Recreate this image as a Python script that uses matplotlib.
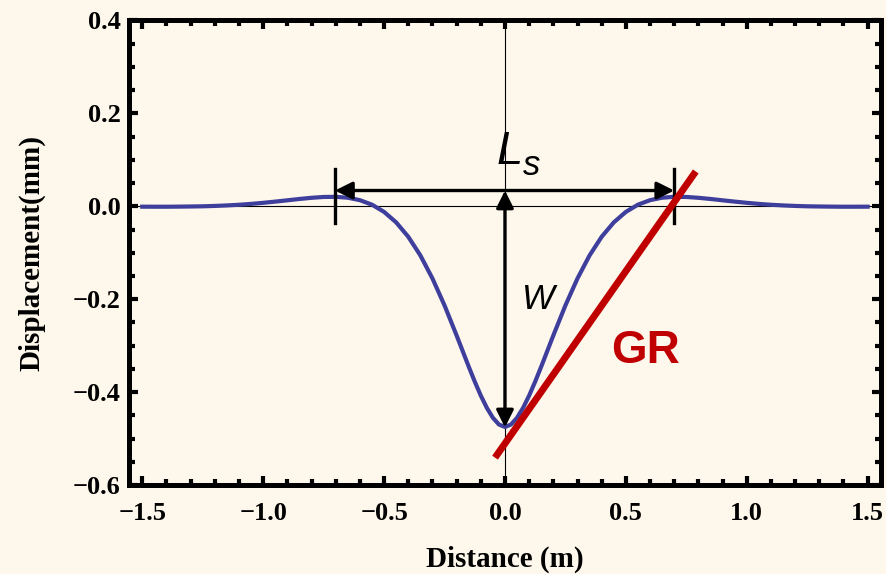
import matplotlib
matplotlib.use('Agg')
import matplotlib.pyplot as plt
from matplotlib.ticker import MultipleLocator, FuncFormatter

# displacement profile (x in m, y in mm)
distance = [-1.5, -1.45, -1.4, -1.35, -1.3, -1.25, -1.2, -1.15, -1.1, -1.05,
            -1.0, -0.95, -0.9, -0.85, -0.8, -0.75, -0.7, -0.65, -0.6, -0.55,
            -0.5, -0.45, -0.4, -0.35, -0.3, -0.25, -0.2, -0.15, -0.125, -0.1,
            -0.075, -0.05, -0.025, 0.0, 0.025, 0.05, 0.075, 0.1, 0.125, 0.15,
            0.2, 0.25, 0.3, 0.35, 0.4, 0.45, 0.5, 0.55, 0.6, 0.65,
            0.7, 0.75, 0.8, 0.85, 0.9, 0.95, 1.0, 1.05, 1.1, 1.15,
            1.2, 1.25, 1.3, 1.35, 1.4, 1.45, 1.5]
displacement = [-0.0008, -0.0009, -0.0009, -0.0007, -0.0004, 0.0, 0.0008, 0.0019, 0.0033, 0.0052,
                0.0075, 0.0101, 0.0129, 0.0158, 0.0183, 0.0201, 0.0204, 0.0185, 0.0132, 0.0035,
                -0.0120, -0.0346, -0.0655, -0.1056, -0.1552, -0.2133, -0.2780, -0.3450, -0.3773, -0.4074,
                -0.4338, -0.4552, -0.4697, -0.475, -0.4697, -0.4552, -0.4338, -0.4074, -0.3773, -0.3450,
                -0.2780, -0.2133, -0.1552, -0.1056, -0.0655, -0.0346, -0.0120, 0.0035, 0.0132, 0.0185,
                0.0204, 0.0201, 0.0183, 0.0158, 0.0129, 0.0101, 0.0075, 0.0052, 0.0033, 0.0019,
                0.0008, 0.0, -0.0004, -0.0007, -0.0009, -0.0009, -0.0008]

# annotation geometry (data units)
ls_ends = [-0.703, 0.700]      # span of L_s
ls_level = 0.034               # height of the L_s arrow
w_bottom = -0.476              # maximum settlement W
gr_x = [-0.041, 0.789]         # tangent line GR
gr_y = [-0.541, 0.075]

xticks = [-1.5, -1.0, -0.5, 0.0, 0.5, 1.0, 1.5]
yticks = [-0.6, -0.4, -0.2, 0.0, 0.2, 0.4]

bg = '#fdf7ec'
fig = plt.figure(figsize=(8.87, 5.74), dpi=100, facecolor=bg)
ax = fig.add_axes([0.1454, 0.155, 0.8478, 0.8093])
ax.set_facecolor(bg)

# thin axes through the origin
ax.axhline(0, color='black', lw=0.8, zorder=1)
ax.axvline(0, color='black', lw=0.8, zorder=1)

ax.plot(distance, displacement, color='#3e3e9c', lw=3, zorder=3)
ax.plot(gr_x, gr_y, color='#c00000', lw=5, solid_capstyle='butt', zorder=5)

arrow = dict(arrowstyle='<|-|>', color='black', lw=2.4, mutation_scale=26,
             shrinkA=0, shrinkB=0)
ax.annotate('', xy=(ls_ends[0], ls_level), xytext=(ls_ends[1], ls_level),
            arrowprops=arrow, zorder=4)
ax.annotate('', xy=(0, ls_level), xytext=(0, w_bottom), arrowprops=arrow, zorder=4)
for xe in ls_ends:
    ax.plot([xe, xe], [-0.037, 0.081], color='black', lw=2.4, zorder=4)

ax.text(-0.035, 0.092, 'L', fontsize=34, family='Liberation Sans', style='italic',
        ha='left', va='baseline')
ax.text(0.075, 0.068, 's', fontsize=25, family='Liberation Sans', style='italic',
        ha='left', va='baseline')
ax.text(0.072, -0.2205, 'W', fontsize=25, family='Liberation Sans', style='italic',
        ha='left', va='baseline')
ax.text(0.44, -0.337, 'GR', fontsize=33, family='Liberation Sans', weight='bold',
        color='#c00000', ha='left', va='baseline')

ax.set_xlim(-1.555, 1.555)
ax.set_ylim(-0.6, 0.4)
ax.set_xticks(xticks)
ax.set_yticks(yticks)
ax.xaxis.set_minor_locator(MultipleLocator(0.1))
ax.yaxis.set_minor_locator(MultipleLocator(0.05))
fmt = FuncFormatter(lambda v, p: f'{v:.1f}'.replace('-', '\u2212'))
ax.xaxis.set_major_formatter(fmt)
ax.yaxis.set_major_formatter(fmt)

for s in ax.spines.values():
    s.set_linewidth(3.6)
ax.tick_params(which='both', direction='in', top=True, right=True, width=3)
ax.tick_params(which='major', length=6.5)
ax.tick_params(which='minor', length=4)
ax.tick_params(axis='x', which='major', pad=12)
ax.tick_params(axis='y', which='major', pad=6)
for lab in ax.get_xticklabels() + ax.get_yticklabels():
    lab.set_fontfamily('Liberation Serif')
    lab.set_fontweight('bold')
    lab.set_fontsize(19)

ax.set_xlabel('Distance (m)', family='Liberation Serif', weight='bold', fontsize=21, labelpad=15)
ax.set_ylabel('Displacement(mm)', family='Liberation Serif', weight='bold', fontsize=21, labelpad=20)

fig.savefig('out.png', dpi=100, facecolor=bg)
